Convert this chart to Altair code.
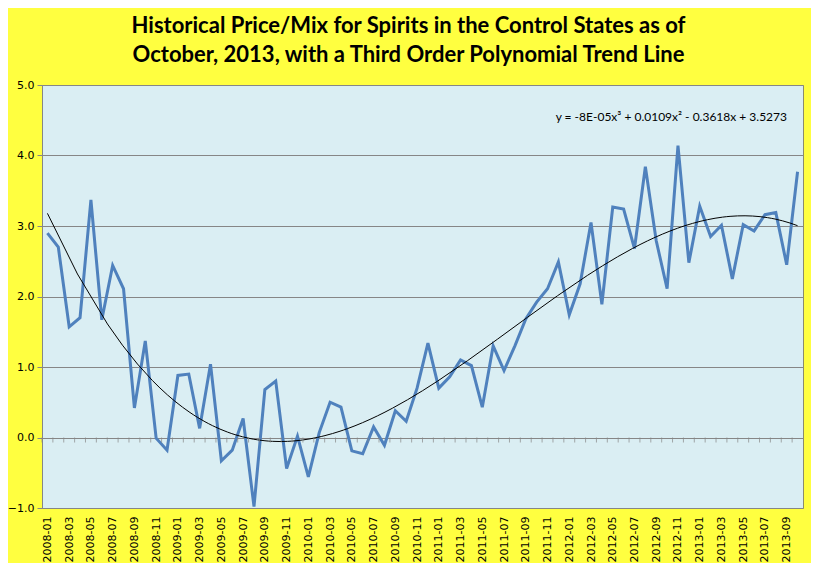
import altair as alt
import pandas as pd

months = [f"{y}-{m:02d}" for y in range(2008, 2014) for m in range(1, 13)][:70]
values = [2.90, 2.70, 1.57, 1.70, 3.37, 1.67, 2.44, 2.11, 0.42, 1.37,
          -0.01, -0.18, 0.88, 0.90, 0.13, 1.04, -0.33, -0.18, 0.27, -0.98,
          0.68, 0.80, -0.44, 0.02, -0.56, 0.07, 0.50, 0.43, -0.19, -0.23,
          0.15, -0.11, 0.38, 0.23, 0.70, 1.34, 0.70, 0.86, 1.10, 1.02,
          0.43, 1.30, 0.95, 1.30, 1.68, 1.92, 2.11, 2.49, 1.74, 2.18,
          3.05, 1.89, 3.27, 3.24, 2.68, 3.84, 2.79, 2.11, 4.14, 2.48,
          3.28, 2.85, 3.01, 2.25, 3.02, 2.93, 3.16, 3.19, 2.45, 3.77]
y_ticks = [-1, 0, 1, 2, 3, 4, 5]
title_lines = ["Historical Price/Mix for Spirits in the Control States as of",
               "October, 2013, with a Third Order Polynomial Trend Line"]
equation = "y = -8E-05x\u00b3 + 0.0109x\u00b2 - 0.3618x + 3.5273"

df = pd.DataFrame({"idx": list(range(1, len(values) + 1)), "month": months, "value": values})

label_array = "[" + ",".join(f"'{m}'" for m in months) + "]"
label_expr = f"{label_array}[datum.value - 1]"

xscale = alt.Scale(domain=[0.5, len(values) + 0.5], nice=False, zero=False)
yscale = alt.Scale(domain=[-1, 5], nice=False)

x_axis = alt.Axis(values=list(range(1, len(values) + 1, 2)), labelExpr=label_expr,
                  labelAngle=-90, ticks=False, domain=False, grid=False,
                  labelFont="DejaVu Sans", labelFontSize=11, labelColor="#000000",
                  labelPadding=8, title=None, labelOverlap=False, labelBound=False)
y_axis = alt.Axis(values=y_ticks, format=".1f", grid=True, gridColor="#868686",
                  gridWidth=1, domainColor="#868686", tickColor="#868686",
                  tickSize=5, labelFont="DejaVu Sans", labelFontSize=11,
                  labelColor="#000000", labelPadding=3, title=None)

base = alt.Chart(df)

line = base.mark_line(color="#4F81BD", strokeWidth=3).encode(
    x=alt.X("idx:Q", scale=xscale, axis=x_axis),
    y=alt.Y("value:Q", scale=yscale, axis=y_axis),
)

trend = base.transform_regression("idx", "value", method="poly", order=3).mark_line(
    color="#000000", strokeWidth=1
).encode(x=alt.X("idx:Q", scale=xscale, axis=x_axis), y=alt.Y("value:Q", scale=yscale, axis=y_axis))

zero_ticks = base.transform_calculate(idx="datum.idx - 0.5", value="0").mark_tick(
    orient="vertical", color="#868686", size=5, thickness=1, yOffset=2.5
).encode(x=alt.X("idx:Q", scale=xscale, axis=x_axis), y=alt.Y("value:Q", scale=yscale, axis=y_axis))

eq_text = alt.Chart(pd.DataFrame({"t": [equation]})).mark_text(
    align="right", baseline="middle", font="Lato", fontSize=12, color="#000000"
).encode(x=alt.value(745), y=alt.value(32), text="t:N")

chart = alt.layer(line, trend, zero_ticks, eq_text).properties(
    width=761, height=423,
    title=alt.TitleParams(title_lines, anchor="middle", font="Lato", fontSize=22,
                          fontWeight="bold", color="#000000", lineHeight=29, offset=12, dx=-14),
    autosize=alt.AutoSizeParams(type="none"),
    padding={"left": 34, "top": 77, "right": 8, "bottom": 55},
    background="#FFFF40",
).configure_view(fill="#DAEEF3", stroke="#8C8C6C", strokeWidth=1
).configure_axisX(labelOverlap=False)

chart.save("out.html", embed_options={"renderer": "svg", "actions": False})
